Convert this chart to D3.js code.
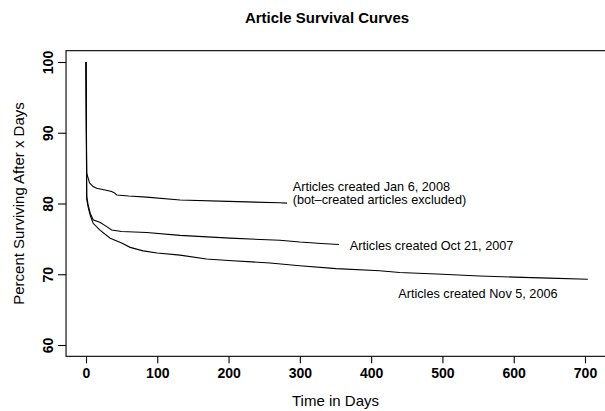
<!DOCTYPE html>
<html>
<head>
<meta charset="utf-8">
<script src="https://cdn.jsdelivr.net/npm/d3@7"></script>
<style>
    body { margin: 0; background: #fff; }
    text { font-family: "Liberation Sans", Arial, Helvetica, sans-serif; fill: #000; }
    .chart-title { font-size: 15px; font-weight: bold; }
    .axis-label { font-size: 15px; }
    .tick-label { font-size: 14px; font-weight: bold; }
    .curve-label { font-size: 12.7px; }
    .curve { fill: none; stroke: #000; stroke-width: 1.1; }
</style>
</head>
<body>
<script>
// Article Survival Curves

// Space Width and Height
const w = 605;
const h = 411;

// Days since creation for each sample, with percent of articles still surviving
const daysJan2008 = [0, 1, 3, 5, 10, 15, 25, 36, 40, 43, 60, 85, 132, 200, 272, 282];
const survJan2008 = [100, 84.3, 83.6, 82.9, 82.4, 82.15, 81.95, 81.7, 81.5, 81.2, 81.05, 80.9, 80.5, 80.3, 80.1, 80.05];

const daysOct2007 = [0, 1, 3, 6, 10, 20, 28, 36, 50, 85, 132, 202, 272, 300, 330, 355];
const survOct2007 = [100, 81, 79.8, 78.6, 77.7, 77.3, 76.8, 76.25, 76.05, 75.9, 75.5, 75.1, 74.8, 74.55, 74.35, 74.2];

const daysNov2006 = [0, 1, 3, 6, 10, 20, 34, 50, 62, 80, 100, 132, 169, 200, 258, 300, 351, 412, 440, 500, 552, 600, 650, 704];
const survNov2006 = [100, 80.6, 79.5, 78.3, 77.2, 76.2, 75.1, 74.4, 73.8, 73.3, 73.0, 72.7, 72.15, 71.95, 71.6, 71.2, 70.8, 70.5, 70.25, 70.0, 69.75, 69.6, 69.45, 69.3];

// Tick values
const xTicks = [0, 100, 200, 300, 400, 500, 600, 700];
const yTicks = [60, 70, 80, 90, 100];

// Curve labels: text lines, anchored at (day, percent)
const labelText = [
    ["Articles created Jan 6, 2008", "(bot\u2013created articles excluded)"],
    ["Articles created Oct 21, 2007"],
    ["Articles created Nov 5, 2006"]
];
const labelDay = [290, 370, 438];
const labelPct = [81.8, 73.4, 66.6];

// Scales
const xScale = d3.scaleLinear()
                 .domain([0, 700])
                 .range([86, 585]);
const yScale = d3.scaleLinear()
                 .domain([60, 100])
                 .range([345, 62]);

// Plot region padded 4% like the original
const xMin = -28, xMax = 732;
const yMin = 58.4, yMax = 101.6;

const svg = d3.select("body")
              .append("svg")
              .attr("width", w)
              .attr("height", h);

// Box
svg.append("rect")
   .attr("x", xScale(xMin))
   .attr("y", yScale(yMax))
   .attr("width", xScale(xMax) - xScale(xMin))
   .attr("height", yScale(yMin) - yScale(yMax))
   .attr("fill", "none")
   .attr("stroke", "#000")
   .attr("stroke-width", 1.1);

// Bottom Axis
const bottomAxis = d3.axisBottom(xScale)
                     .tickValues(xTicks)
                     .tickSize(7)
                     .tickPadding(5);
const gx = svg.append("g")
              .attr("transform", "translate(0," + yScale(yMin) + ")")
              .call(bottomAxis);
gx.select(".domain").remove();
gx.selectAll("line").attr("stroke", "#000").attr("stroke-width", 1.1);
gx.selectAll("text")
  .attr("class", "tick-label")
  .attr("font-family", null)
  .attr("font-size", null);

// Left Axis
const leftAxis = d3.axisLeft(yScale)
                   .tickValues(yTicks)
                   .tickSize(8)
                   .tickPadding(5);
const gy = svg.append("g")
              .attr("transform", "translate(" + xScale(xMin) + ",0)")
              .call(leftAxis);
gy.select(".domain").remove();
gy.selectAll("line").attr("stroke", "#000").attr("stroke-width", 1.1);
gy.selectAll("text")
  .attr("class", "tick-label")
  .attr("font-family", null)
  .attr("font-size", null)
  .attr("x", null)
  .attr("dy", null)
  .attr("text-anchor", "middle")
  .attr("transform", "translate(-13,0) rotate(-90)");

// Line generator
const line = d3.line()
               .x(d => xScale(d[0]))
               .y(d => yScale(d[1]));

const curves = [
    d3.zip(daysJan2008, survJan2008),
    d3.zip(daysOct2007, survOct2007),
    d3.zip(daysNov2006, survNov2006)
];

svg.selectAll("path.curve")
   .data(curves)
   .join("path")
   .attr("class", "curve")
   .attr("d", line);

// Curve labels
labelText.forEach((lines, i) => {
    const t = svg.append("text")
                 .attr("class", "curve-label")
                 .attr("x", xScale(labelDay[i]))
                 .attr("y", yScale(labelPct[i]));
    lines.forEach((s, j) => {
        t.append("tspan")
         .attr("x", xScale(labelDay[i]))
         .attr("dy", j === 0 ? 0 : 13)
         .text(s);
    });
});

// Chart Title
svg.append("text")
   .attr("class", "chart-title")
   .attr("x", 327)
   .attr("y", 23)
   .attr("text-anchor", "middle")
   .text("Article Survival Curves");

// X-Axis Label
svg.append("text")
   .attr("class", "axis-label")
   .attr("x", xScale(350))
   .attr("y", 406)
   .attr("text-anchor", "middle")
   .text("Time in Days");

// Y-Axis Label
svg.append("text")
   .attr("class", "axis-label")
   .attr("transform", "rotate(-90)")
   .attr("x", -yScale(80))
   .attr("y", 24)
   .attr("text-anchor", "middle")
   .text("Percent Surviving After x Days");
</script>
</body>
</html>
